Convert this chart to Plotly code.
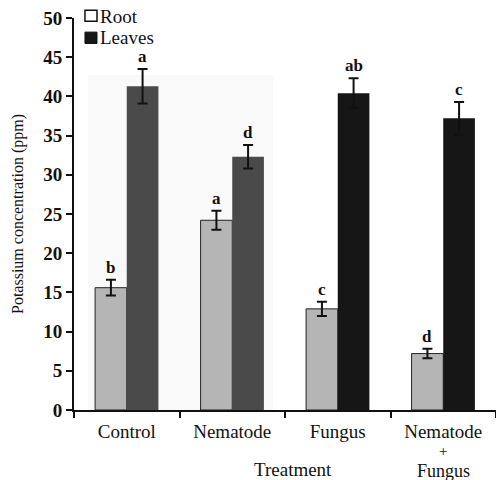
import plotly.graph_objects as go

categories = ["Control", "Nematode", "Fungus", "Nematode + Fungus"]
tick_labels = ["Control", "Nematode", "Fungus", "Nematode"]
extra_label_lines = ["+", "Fungus"]
root = [15.6, 24.2, 12.9, 7.2]
root_err = [1.0, 1.2, 0.9, 0.6]
leaves = [41.3, 32.3, 40.4, 37.2]
leaves_err = [2.2, 1.5, 1.9, 2.1]
root_letters = ["b", "a", "c", "d"]
leaves_letters = ["a", "d", "ab", "c"]
leaves_colors = ["#4a4a4a", "#4a4a4a", "#161616", "#161616"]
y_ticks = [0, 5, 10, 15, 20, 25, 30, 35, 40, 45, 50]

FONT = "Liberation Serif"
INK = "#111"

fig = go.Figure()
fig.add_trace(go.Bar(
    x=categories, y=root, name="Root", showlegend=False,
    marker=dict(color="#b5b5b5", line=dict(color="#222", width=1)),
    error_y=dict(type="data", array=root_err, color=INK, thickness=2, width=5),
))
fig.add_trace(go.Bar(
    x=categories, y=leaves, name="Leaves", showlegend=False,
    marker=dict(color=leaves_colors, line=dict(width=0)),
    error_y=dict(type="data", array=leaves_err, color=INK, thickness=2, width=5),
))

for i, c in enumerate(categories):
    fig.add_annotation(x=c, y=root[i] + root_err[i], text="<b>%s</b>" % root_letters[i],
                       xshift=-16, yshift=1, yanchor="bottom", showarrow=False,
                       font=dict(family=FONT, size=17, color=INK))
    fig.add_annotation(x=c, y=leaves[i] + leaves_err[i], text="<b>%s</b>" % leaves_letters[i],
                       xshift=16, yshift=1, yanchor="bottom", showarrow=False,
                       font=dict(family=FONT, size=17, color=INK))

# remaining lines of the last category label (tighter line spacing than <br>)
for txt, yp, fs in zip(extra_label_lines, [-0.1046, -0.1556], [15, 18]):
    fig.add_annotation(x=categories[-1], y=yp, yref="paper", text=txt,
                       showarrow=False, yanchor="middle",
                       font=dict(family=FONT, size=fs, color=INK))

fig.add_annotation(x=0.52, y=-0.153, xref="paper", yref="paper", text="Treatment",
                   showarrow=False, yanchor="middle",
                   font=dict(family=FONT, size=19, color=INK))

# manual legend
fig.add_shape(type="rect", xref="paper", yref="paper", x0=0.026, x1=0.0545,
              y0=0.992, y1=1.02, fillcolor="white", line=dict(color=INK, width=1.5))
fig.add_shape(type="rect", xref="paper", yref="paper", x0=0.026, x1=0.0545,
              y0=0.935, y1=0.964, fillcolor="#161616", line=dict(color=INK, width=1))
fig.add_annotation(x=0.057, y=1.005, xref="paper", yref="paper", text="Root",
                   xanchor="left", yanchor="middle", showarrow=False,
                   font=dict(family=FONT, size=19, color=INK))
fig.add_annotation(x=0.057, y=0.949, xref="paper", yref="paper", text="Leaves",
                   xanchor="left", yanchor="middle", showarrow=False,
                   font=dict(family=FONT, size=19, color=INK))

# faint scan-background panel
fig.add_shape(type="rect", xref="paper", yref="paper", x0=0.033, x1=0.472,
              y0=0.0, y1=0.855, fillcolor="#f9f9f9", line=dict(width=0), layer="below")

fig.update_layout(
    width=496, height=480,
    margin=dict(l=74, r=0, t=18, b=70),
    paper_bgcolor="white", plot_bgcolor="rgba(0,0,0,0)",
    barmode="group", bargap=0.4, bargroupgap=0,
    font=dict(family=FONT, color=INK),
    showlegend=False,
    xaxis=dict(showline=True, linecolor=INK, linewidth=2, ticks="outside",
               tickson="boundaries", ticklen=6, tickwidth=2, tickcolor=INK,
               tickvals=categories, ticktext=tick_labels, ticklabelstandoff=3,
               tickfont=dict(family=FONT, size=19, color=INK),
               showgrid=False, zeroline=False, automargin=False),
    yaxis=dict(range=[0, 50], tickvals=y_ticks,
               ticktext=["<b>%d</b>" % v for v in y_ticks],
               showline=True, linecolor=INK, linewidth=2,
               ticks="outside", ticklen=6, tickwidth=2, tickcolor=INK,
               tickfont=dict(family=FONT, size=19, color=INK),
               showgrid=False, zeroline=False, automargin=False,
               title=dict(text="Potassium concentration (ppm)",
                          font=dict(family=FONT, size=16, color=INK), standoff=16)),
)

fig.write_html("out.html", config={"displayModeBar": False},
               post_script="document.body.style.margin='0';document.body.style.overflow='hidden';")
